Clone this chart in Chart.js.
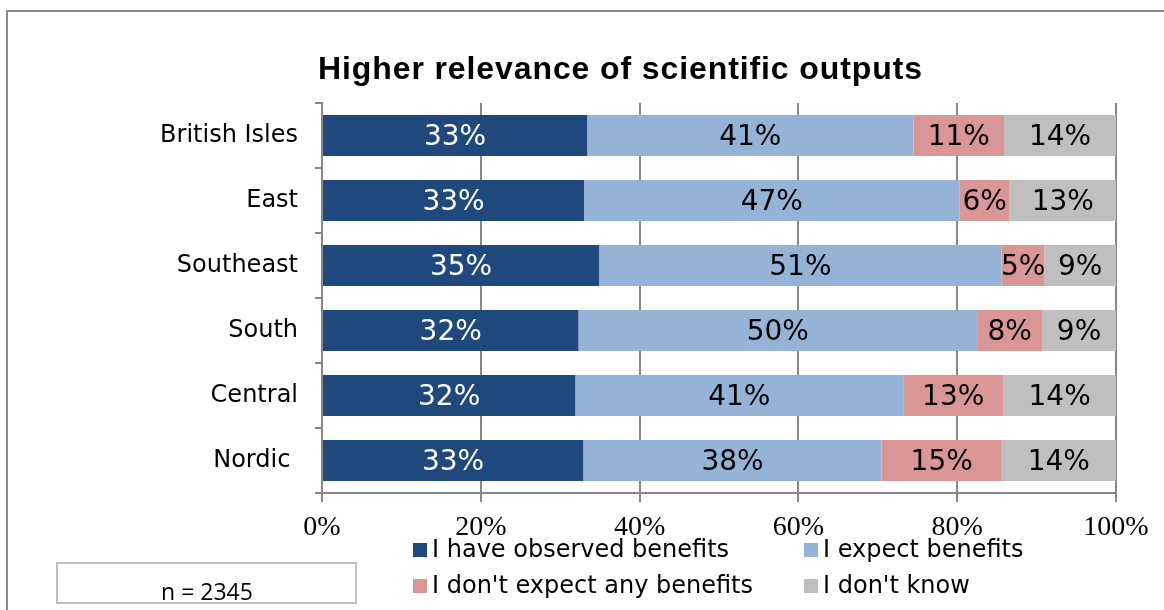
<!DOCTYPE html>
<html>
<head>
<meta charset="utf-8">
<script src="https://cdn.jsdelivr.net/npm/chart.js@4/dist/chart.umd.min.js"></script>
<style>
  html, body { margin: 0; padding: 0; background: #ffffff; }
  canvas { display: block; }
</style>
</head>
<body>
<canvas id="c" width="1164" height="610"></canvas>
<script>
// ---- data ----
const categories = ['British Isles', 'East', 'Southeast', 'South', 'Central', 'Nordic '];
const seriesNames = ['I have observed benefits', 'I expect benefits', "I don't expect any benefits", "I don't know"];
const observed  = [33.4, 33.0, 34.9, 32.3, 31.9, 32.9];
const expected  = [41.1, 47.3, 50.7, 50.2, 41.3, 37.6];
const noExpect  = [11.4, 6.3, 5.4, 8.2, 12.6, 15.1];
const dontKnow  = [14.1, 13.4, 9.0, 9.3, 14.2, 14.4];
const xTicks = [0, 20, 40, 60, 80, 100];
const titleText = 'Higher relevance of scientific outputs';
const noteText = 'n = 2345';

const colors = ['#1F497D', '#95B3D7', '#D99694', '#BFBFBF'];
const labelColors = ['#ffffff', '#000000', '#000000', '#000000'];
const gridColor = '#888888';

Chart.defaults.font.family = '"DejaVu Sans", Verdana, sans-serif';
Chart.defaults.color = '#000000';

const valueLabels = {
  id: 'valueLabels',
  afterDatasetsDraw(chart) {
    const ctx = chart.ctx;
    ctx.save();
    ctx.font = '28px "DejaVu Sans"';
    ctx.textAlign = 'center';
    ctx.textBaseline = 'middle';
    chart.data.datasets.forEach((ds, i) => {
      const meta = chart.getDatasetMeta(i);
      meta.data.forEach((bar, j) => {
        const p = bar.getProps(['x', 'y', 'base'], true);
        ctx.fillStyle = labelColors[i];
        ctx.fillText(Math.round(ds.data[j]) + '%', (p.x + p.base) / 2, p.y + 2);
      });
    });
    ctx.restore();
  }
};

const decorations = {
  id: 'decorations',
  beforeDraw(chart) {
    const ctx = chart.ctx;
    ctx.save();
    ctx.fillStyle = '#ffffff';
    ctx.fillRect(0, 0, chart.width, chart.height);
    // outer frame
    ctx.strokeStyle = '#8a8a8a';
    ctx.lineWidth = 2;
    ctx.beginPath();
    ctx.moveTo(7, chart.height + 2);
    ctx.lineTo(7, 11);
    ctx.lineTo(chart.width + 2, 11);
    ctx.stroke();
    ctx.restore();
  },
  afterDraw(chart) {
    const ctx = chart.ctx;
    ctx.save();
    // title
    ctx.fillStyle = '#000000';
    ctx.font = 'bold 32px "Liberation Sans", Arial, sans-serif';
    ctx.textBaseline = 'alphabetic';
    ctx.textAlign = 'left';
    const w0 = ctx.measureText(titleText).width;
    const targetW = 604;
    const sp = Math.max(0, (targetW - w0) / (titleText.length - 1));
    ctx.letterSpacing = sp + 'px';
    ctx.fillText(titleText, 620 - targetW / 2, 79);
    ctx.letterSpacing = '0px';
    // note box
    ctx.fillStyle = '#ffffff';
    ctx.fillRect(57, 563, 299, 40);
    ctx.strokeStyle = '#c0c0c0';
    ctx.lineWidth = 2;
    ctx.strokeRect(57, 563, 299, 40);
    ctx.fillStyle = '#000000';
    ctx.font = '23px "Open Sans"';
    ctx.textAlign = 'center';
    ctx.fillText(noteText, 207, 600);
    // legend (2 columns)
    const colX = [413, 804];
    const rowY = [550, 586];
    ctx.font = '24px "DejaVu Sans"';
    ctx.textAlign = 'left';
    ctx.textBaseline = 'middle';
    chart.data.datasets.forEach((ds, i) => {
      const x = colX[i % 2];
      const y = rowY[Math.floor(i / 2)];
      ctx.fillStyle = ds.backgroundColor;
      ctx.fillRect(x, y - 7, 14, 14);
      ctx.fillStyle = '#000000';
      ctx.fillText(ds.label, x + 19, y + 1);
    });
    ctx.restore();
  }
};

const seriesData = [observed, expected, noExpect, dontKnow];

new Chart(document.getElementById('c'), {
  type: 'bar',
  data: {
    labels: categories,
    datasets: seriesData.map((d, i) => ({
      label: seriesNames[i],
      data: d,
      backgroundColor: colors[i],
      borderWidth: 0,
      barPercentage: 0.63,
      categoryPercentage: 1.0
    }))
  },
  options: {
    indexAxis: 'y',
    responsive: false,
    animation: false,
    layout: { padding: { left: 124, right: 48, top: 103, bottom: 0 } },
    plugins: {
      legend: { display: false },
      tooltip: { enabled: false },
      title: { display: false }
    },
    scales: {
      x: {
        stacked: true,
        min: 0,
        max: 100,
        afterBuildTicks(scale) { scale.ticks = xTicks.map(v => ({ value: v })); },
        afterFit(scale) { scale.height = 117; },
        ticks: {
          callback: v => v + '%',
          font: { family: '"Liberation Serif", "Times New Roman", serif', size: 28 },
          color: '#000000',
          padding: 9,
          maxRotation: 0
        },
        grid: { color: gridColor, lineWidth: 2, tickLength: 9, drawOnChartArea: true },
        border: { color: gridColor, width: 2 }
      },
      y: {
        stacked: true,
        afterFit(scale) { scale.width = 198; },
        ticks: {
          font: { family: '"DejaVu Sans", Verdana, sans-serif', size: 24 },
          color: '#000000',
          padding: 17
        },
        grid: { color: gridColor, lineWidth: 2, tickLength: 7, drawOnChartArea: false, offset: true },
        border: { color: gridColor, width: 2 }
      }
    }
  },
  plugins: [decorations, valueLabels]
});
</script>
</body>
</html>
